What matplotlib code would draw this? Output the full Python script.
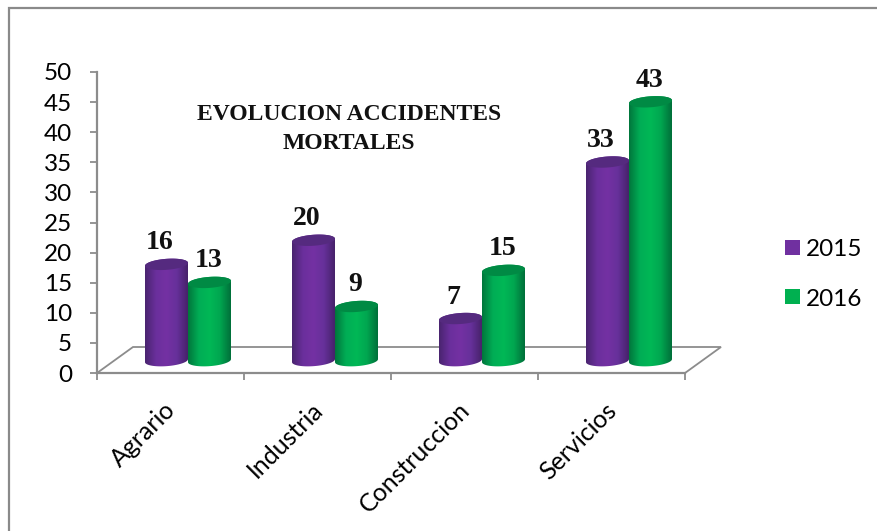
# plot.py - 3D looking cylinder chart of fatal accidents per sector
import numpy as np
import matplotlib
matplotlib.use("Agg")
import matplotlib.pyplot as plt
from matplotlib.colors import LinearSegmentedColormap
from matplotlib.lines import Line2D
from matplotlib.patches import PathPatch, Polygon, Rectangle
from matplotlib.path import Path

W, H = 877, 531

categories = ["Agrario", "Industria", "Construccion", "Servicios"]
years = ["2015", "2016"]
values_2015 = [16, 20, 7, 33]
values_2016 = [13, 9, 15, 43]
yticks = [0, 5, 10, 15, 20, 25, 30, 35, 40, 45, 50]

purple = ["#4a2470", "#6a2f9c", "#7431a3", "#66309a", "#47226b"]
green = ["#00773c", "#00ad55", "#00b856", "#00a650", "#00703a"]
top_purple = "#552a7f"
top_green = "#008a44"

fig = plt.figure(figsize=(W / 100, H / 100), dpi=100)
fig.patch.set_facecolor("white")

# axes placed by pixel: x 97-685, y 373-72
ax = fig.add_axes([97 / W, 1 - 373 / H, 588 / W, 301 / H])
ax.set_xlim(0, 4)
ax.set_ylim(0, 50)
ax.patch.set_visible(False)
for s in ax.spines.values():
    s.set_visible(False)

grey = "#8c8c8c"
px = 4 / 588      # one pixel in x units
py = 50 / 301     # one pixel in y units
base = 2.05


def cylinder(x0, width, val, cols, top_col):
    a = width / 2
    b = 5.5 * py
    tilt = 1.5 * py
    cx = x0 + a
    t = np.linspace(0, np.pi, 40)
    # lower half of bottom ellipse then upper half of top ellipse back
    xb = cx - a * np.cos(t)
    yb = base - b * np.sin(t) - tilt * np.cos(t)
    xt = cx + a * np.cos(t)
    yt = base + val + b * np.sin(t) + tilt * np.cos(t)
    verts = np.column_stack([np.r_[xb, xt], np.r_[yb, yt]])
    body = PathPatch(Path(np.vstack([verts, verts[0]]), closed=True), transform=ax.transData, fc="none", ec="none")
    ax.add_patch(body)
    cmap = LinearSegmentedColormap.from_list("c", cols)
    im = ax.imshow(np.linspace(0, 1, 64).reshape(1, -1), cmap=cmap, aspect="auto",
                   extent=(x0, x0 + width, 0, 50), zorder=3, clip_on=True)
    im.set_clip_path(body)
    # top cap
    t2 = np.linspace(0, 2 * np.pi, 80)
    cap = np.column_stack([cx + a * np.cos(t2),
                           base + val + b * np.sin(t2) + tilt * np.cos(t2)])
    ax.add_patch(Polygon(cap, closed=True, fc=top_col, ec="none", zorder=4, clip_on=False))


# floor
floor_dx = 36 * px
floor_dy = 26 * py
ax.plot([0, floor_dx, 4 + floor_dx, 4], [0, floor_dy, floor_dy, 0], color=grey, lw=1.3,
        clip_on=False, zorder=1, solid_joinstyle="miter")

# grey frame, only the left and top sides show in the picture
fig.add_artist(Line2D([9 / W, 9 / W, 1], [0, 1 - 8 / H, 1 - 8 / H], transform=fig.transFigure,
                      color="#8a8a8a", lw=1.6, solid_joinstyle="miter"))

bar_w = 43 * px
start = 48 * px
for i in range(len(categories)):
    cylinder(i + start, bar_w, values_2015[i], purple, top_purple)
    cylinder(i + start + bar_w, bar_w, values_2016[i], green, top_green)
    for off, dx, v in [(0, -7, values_2015[i]), (1, -1, values_2016[i])]:
        ax.text(i + start + bar_w * (off + 0.5) + dx * px, v + base + 9 * py, str(v), ha="center", va="bottom",
                family="Liberation Serif", fontweight="bold", fontsize=20, color="#111111",
                clip_on=False, zorder=6)

ax.set_xlim(0, 4)
ax.set_ylim(0, 50)

for s in ["left", "bottom"]:
    ax.spines[s].set_visible(True)
    ax.spines[s].set_color(grey)
    ax.spines[s].set_linewidth(1.6)
ax.set_yticks(yticks)
ax.set_xticks(range(5))
ax.set_xticklabels([])
ax.tick_params(axis="both", color=grey, width=1.3, length=5, labelcolor="black")
ax.tick_params(axis="y", labelsize=17.5, pad=13)
for lab in ax.get_yticklabels():
    lab.set_family("Lato")

# rotated category labels, anchored at their upper right end
for i, c in enumerate(categories):
    ax.annotate(c, (i + 0.5, 0), xytext=(1, -24), textcoords="offset points", rotation=45,
                rotation_mode="anchor", ha="right", va="center", family="Lato", fontsize=18,
                annotation_clip=False)

ax.text(0.429, 0.81, "EVOLUCION ACCIDENTES\nMORTALES", transform=ax.transAxes, ha="center",
        va="center", family="Liberation Serif", fontweight="bold", fontsize=17, color="#111111",
        linespacing=1.5)

# legend
for name, col, y in zip(years, ["#7030a0", "#00b050"], [248, 297]):
    fig.add_artist(Rectangle((785 / W, 1 - (y + 7) / H), 15 / W, 15 / H, transform=fig.transFigure,
                             fc=col, ec="none"))
    fig.text(806 / W, 1 - (y + 2) / H, name, family="Lato", fontsize=17.5, va="center", ha="left")

fig.savefig("out.png", dpi=100)
